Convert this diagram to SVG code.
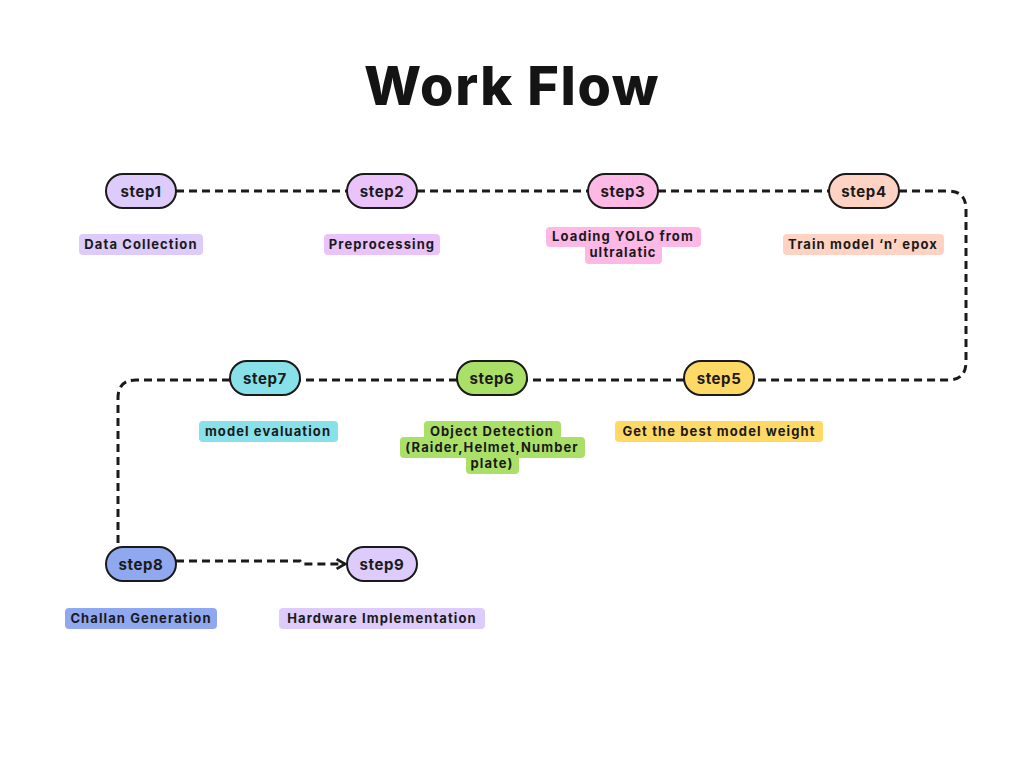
<svg xmlns="http://www.w3.org/2000/svg" width="1024" height="768" viewBox="0 0 1024 768">
<defs>
<style>
.pill{stroke:#1a1a1a;stroke-width:2}
.st{font-family:Inter,"Open Sans",sans-serif;font-weight:700;font-size:15px;fill:#1a1a1a;text-anchor:middle;letter-spacing:0.6px}
.lb{font-family:Inter,"Open Sans",sans-serif;font-weight:700;font-size:13px;fill:#1a1a1a;text-anchor:middle;letter-spacing:1.1px}
.conn{fill:none;stroke:#1a1a1a;stroke-width:3;stroke-dasharray:8 5}
.title{font-family:Inter,"Open Sans",sans-serif;font-weight:800;font-size:54px;fill:#141414;text-anchor:middle;letter-spacing:1.6px}
</style>
<marker id="arr" viewBox="0 0 10 10" refX="8" refY="5" markerWidth="4" markerHeight="4" orient="auto" markerUnits="strokeWidth">
<path d="M1,1 L8,5 L1,9" fill="none" stroke="#1a1a1a" stroke-width="2.2"/>
</marker>
</defs>
<rect width="1024" height="768" fill="#ffffff"/>
<text class="title" x="512" y="105">Work Flow</text>
<g id="connectors">
<path class="conn" d="M176,191 H347"/>
<path class="conn" d="M417,191 H588"/>
<path class="conn" d="M658,191 H829"/>
<path class="conn" d="M899,191 H948 Q966,191 966,209 V362 Q966,380 948,380 H754"/>
<path class="conn" d="M684,380 H527"/>
<path class="conn" d="M457,380 H300"/>
<path class="conn" d="M230,380 H136 Q118,380 118,398 V546"/>
<path class="conn" d="M176,561 H300 L302,564 H345" marker-end="url(#arr)"/>
</g>
<g id="step1"><rect class="pill" x="106" y="174" width="70" height="34" rx="17" fill="#dccbfb"/><text class="st" x="141" y="197">step1</text>
<rect x="79" y="234" width="124" height="21" rx="4" fill="#dccbfb"/><text class="lb" x="141" y="249">Data Collection</text></g>
<g id="step2"><rect class="pill" x="347" y="174" width="70" height="34" rx="17" fill="#ebc3fb"/><text class="st" x="382" y="197">step2</text>
<rect x="324" y="234" width="116" height="21" rx="4" fill="#ebc3fb"/><text class="lb" x="382" y="249">Preprocessing</text></g>
<g id="step3"><rect class="pill" x="588" y="174" width="70" height="34" rx="17" fill="#fdb8e6"/><text class="st" x="623" y="197">step3</text>
<rect x="546" y="227" width="155" height="20" rx="4" fill="#fdb8e6"/><rect x="585" y="244" width="77" height="20" rx="4" fill="#fdb8e6"/>
<text class="lb" x="623" y="241">Loading YOLO from</text><text class="lb" x="623" y="257">ultralatic</text></g>
<g id="step4"><rect class="pill" x="829" y="174" width="70" height="34" rx="17" fill="#fed3c3"/><text class="st" x="864" y="197">step4</text>
<rect x="783" y="234" width="161" height="21" rx="4" fill="#fed3c3"/><text class="lb" x="863" y="249">Train model ‘n’ epox</text></g>
<g id="step5"><rect class="pill" x="684" y="361" width="70" height="34" rx="17" fill="#ffd966"/><text class="st" x="719" y="384">step5</text>
<rect x="615" y="421" width="208" height="21" rx="4" fill="#ffd966"/><text class="lb" x="719" y="436">Get the best model weight</text></g>
<g id="step6"><rect class="pill" x="457" y="361" width="70" height="34" rx="17" fill="#abe068"/><text class="st" x="492" y="384">step6</text>
<rect x="424" y="421" width="137" height="20" rx="4" fill="#abe068"/><rect x="400" y="437" width="185" height="21" rx="4" fill="#abe068"/><rect x="466" y="454" width="53" height="20" rx="4" fill="#abe068"/>
<text class="lb" x="492" y="436">Object Detection</text><text class="lb" x="492" y="452">(Raider,Helmet,Number</text><text class="lb" x="492" y="468">plate)</text></g>
<g id="step7"><rect class="pill" x="230" y="361" width="70" height="34" rx="17" fill="#88e0e8"/><text class="st" x="265" y="384">step7</text>
<rect x="199" y="421" width="139" height="21" rx="4" fill="#88e0e8"/><text class="lb" x="268" y="436">model evaluation</text></g>
<g id="step8"><rect class="pill" x="106" y="547" width="70" height="34" rx="17" fill="#90a8f0"/><text class="st" x="141" y="570">step8</text>
<rect x="65" y="608" width="152" height="21" rx="4" fill="#90a8f0"/><text class="lb" x="141" y="623">Challan Generation</text></g>
<g id="step9"><rect class="pill" x="347" y="547" width="70" height="34" rx="17" fill="#dccbfb"/><text class="st" x="382" y="570">step9</text>
<rect x="279" y="608" width="206" height="21" rx="4" fill="#dccbfb"/><text class="lb" x="382" y="623">Hardware Implementation</text></g>
</svg>
